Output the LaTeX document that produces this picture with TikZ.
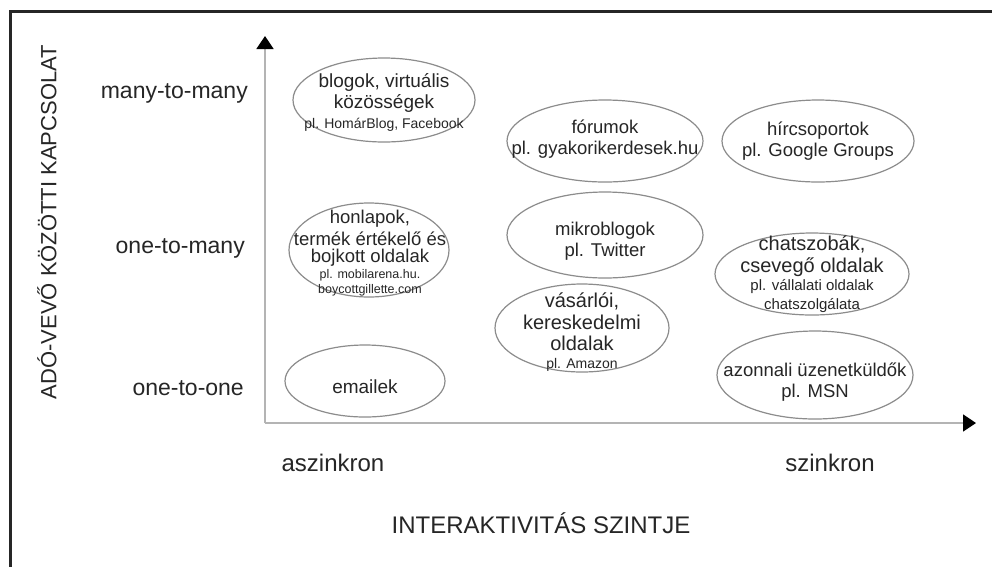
\documentclass[tikz,border=0pt]{standalone}
\usepackage{fontspec}
\setmainfont{Liberation Sans}
\usetikzlibrary{shapes.geometric,arrows.meta}
\definecolor{txt}{HTML}{262626}
\definecolor{bubgray}{HTML}{8C8C8C}
\definecolor{axgray}{HTML}{B4B4B4}
\definecolor{framec}{HTML}{262626}
\begin{document}
\begin{tikzpicture}[x=1pt,y=-1pt,
  bub/.style={draw=bubgray, line width=1.2pt, ellipse, inner sep=0pt},
  btxt/.style={inner sep=0pt, align=center, text=txt, font=\fontsize{19}{21.5}\selectfont},
  axisline/.style={draw=axgray, line width=1.8pt, -{Triangle[length=13pt,width=17pt,color=black]}},
  rowlab/.style={anchor=east, inner sep=0pt, text=txt, font=\fontsize{23}{26}\selectfont},
  axlab/.style={inner sep=0pt, text=txt, font=\fontsize{24}{28}\selectfont}]
\newcommand{\smallpl}{\fontsize{14}{16.5}\selectfont}
\newcommand{\tinypl}{\fontsize{12.5}{14.5}\selectfont}
\newcommand{\midpl}{\fontsize{18.5}{21.5}\selectfont}
\useasboundingbox (0,0) rectangle (992,566);
\fill[white] (0,0) rectangle (992,566);
% frame
\draw[framec, line width=3pt] (10,570) -- (10,11.5) -- (996,11.5);
% axes
\coordinate (O) at (265,423);
\coordinate (ytip) at (265,36);
\coordinate (xtip) at (976,423);
\draw[axisline] (O) -- (ytip);
\draw[axisline] (O) -- (xtip);
% axis labels
\node[rotate=90, inner sep=0pt, text=txt, font=\fontsize{22}{26}\selectfont] (ylab) at (47,222) {ADÓ-VEVŐ KÖZÖTTI KAPCSOLAT};
\node[rowlab] (mm) at (248,93) {many-to-many};
\node[rowlab] (om) at (245,248) {one-to-many};
\node[rowlab] (oo) at (244,388) {one-to-one};
\node[axlab] (asz) at (333,463) {aszinkron};
\node[axlab] (szi) at (830,463) {szinkron};
\node[axlab] (inter) at (541,523) {INTERAKTIVITÁS SZINTJE};
% bubbles
\node[bub, minimum width=182pt, minimum height=84pt] (blog) at (384,100) {};
\node[btxt] (blogt) at (384,102)
  {blogok, virtuális\\közösségek\\[-2pt]{\smallpl pl. HomárBlog, Facebook}};
\node[bub, minimum width=196pt, minimum height=82pt] (forum) at (605,141) {};
\node[btxt, font=\midpl] (forumt) at (605,139)
  {fórumok\\pl. gyakorikerdesek.hu};
\node[bub, minimum width=192pt, minimum height=82pt] (hir) at (818,141) {};
\node[btxt, font=\midpl] (hirt) at (818,141)
  {hírcsoportok\\pl. Google Groups};
\node[bub, minimum width=160pt, minimum height=94pt] (honlap) at (369,250) {};
\node[btxt, font=\fontsize{18.5}{17}\selectfont] (honlapt) at (370,253)
  {honlapok,\\[4pt]termék értékelő és\\bojkott oldalak\\[-1pt]{\tinypl pl. mobilarena.hu.}\\[-2pt]{\tinypl boycottgillette.com}};
\node[bub, minimum width=196pt, minimum height=86pt] (mikro) at (605,235) {};
\node[btxt, font=\midpl] (mikrot) at (605,241)
  {mikroblogok\\pl. Twitter};
\node[bub, minimum width=194pt, minimum height=82pt] (chat) at (812,274) {};
\node[btxt, font=\fontsize{20}{21.5}\selectfont] (chatt) at (812,274)
  {chatszobák,\\csevegő oldalak\\[-3pt]{\fontsize{15}{17}\selectfont pl. vállalati oldalak}\\[-3pt]{\fontsize{15}{17}\selectfont chatszolgálata}};
\node[bub, minimum width=174pt, minimum height=88pt] (vasar) at (582,328) {};
\node[btxt, font=\fontsize{20}{21.5}\selectfont] (vasart) at (582,332)
  {vásárlói,\\kereskedelmi\\oldalak\\[-4pt]{\smallpl pl. Amazon}};
\node[bub, minimum width=160pt, minimum height=72pt] (email) at (365,381) {};
\node[btxt] (emailt) at (365,387) {emailek};
\node[bub, minimum width=196pt, minimum height=88pt] (azon) at (815,375) {};
\node[btxt, font=\midpl] (azont) at (815,382)
  {azonnali üzenetküldők\\pl. MSN};
\end{tikzpicture}
\end{document}
